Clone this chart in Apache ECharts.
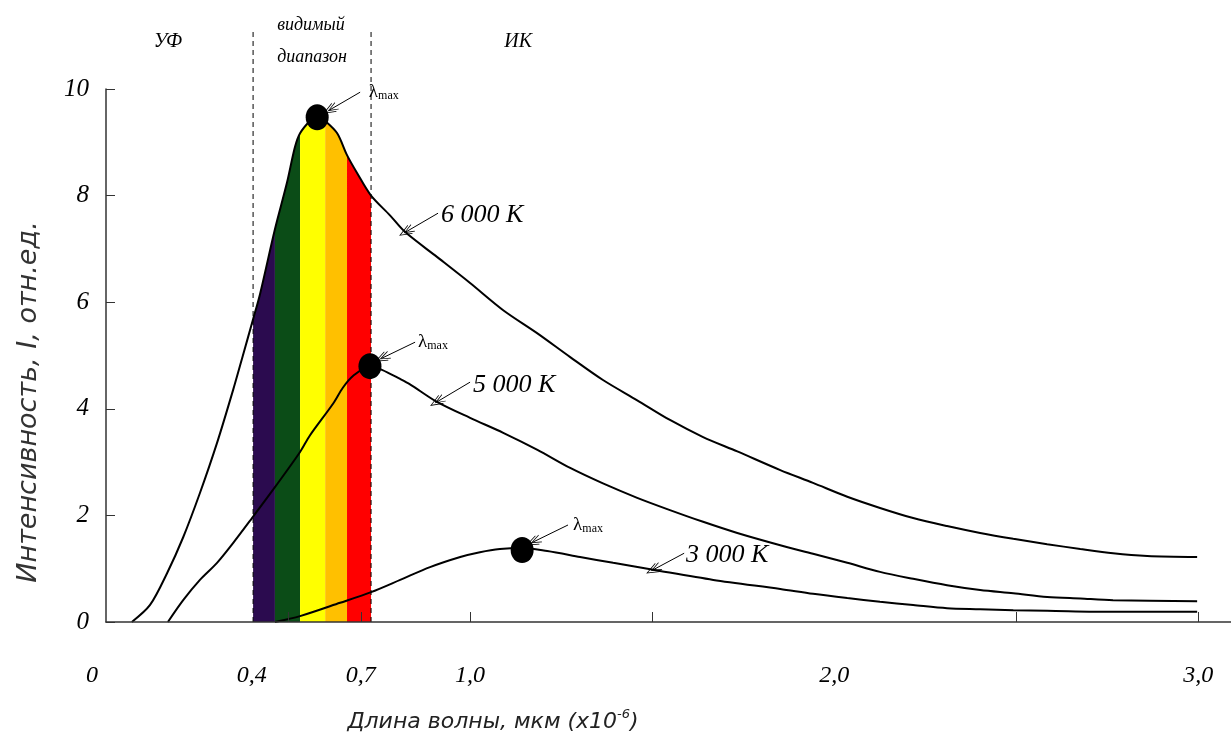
<!DOCTYPE html>
<html><head><meta charset="utf-8">
<script src="https://cdn.jsdelivr.net/npm/echarts@6/dist/echarts.min.js"></script>
<style>html,body{margin:0;padding:0;background:#fff}#c{width:1231px;height:740px}</style>
</head><body><div id="c"></div>
<script>
// ---- data ----
const curve6000 = [[0.071,0],[0.121,0.32],[0.168,0.92],[0.212,1.59],[0.258,2.42],[0.305,3.36],[0.349,4.35],[0.376,5.00],[0.404,5.68],[0.423,6.15],[0.464,7.37],[0.497,8.24],[0.519,8.91],[0.533,9.17],[0.560,9.40],[0.580,9.50],[0.602,9.40],[0.635,9.17],[0.662,8.76],[0.690,8.42],[0.728,8.00],[0.780,7.63],[0.821,7.32],[0.909,6.85],[1.0,6.36],[1.091,5.85],[1.184,5.42],[1.275,4.97],[1.365,4.54],[1.459,4.16],[1.549,3.79],[1.640,3.47],[1.734,3.20],[1.852,2.85],[1.942,2.61],[2.036,2.35],[2.126,2.14],[2.217,1.95],[2.310,1.80],[2.401,1.67],[2.492,1.56],[2.585,1.46],[2.676,1.37],[2.766,1.29],[2.860,1.24],[2.997,1.22]];
const curve5000 = [[0.170,0],[0.212,0.41],[0.258,0.79],[0.305,1.11],[0.349,1.48],[0.401,1.95],[0.464,2.53],[0.533,3.19],[0.560,3.50],[0.624,4.10],[0.651,4.40],[0.679,4.62],[0.725,4.80],[0.758,4.73],[0.808,4.56],[0.835,4.46],[0.909,4.13],[1.0,3.83],[1.091,3.55],[1.185,3.23],[1.275,2.89],[1.365,2.60],[1.459,2.33],[1.549,2.10],[1.640,1.88],[1.734,1.67],[1.852,1.44],[1.942,1.28],[2.036,1.11],[2.126,0.94],[2.217,0.81],[2.310,0.69],[2.401,0.60],[2.492,0.54],[2.585,0.47],[2.676,0.44],[2.766,0.41],[2.997,0.39]];
const curve3000 = [[0.464,0],[0.533,0.11],[0.643,0.36],[0.728,0.56],[0.808,0.79],[0.890,1.03],[0.973,1.22],[1.027,1.31],[1.082,1.37],[1.143,1.39],[1.212,1.33],[1.302,1.22],[1.393,1.11],[1.503,0.98],[1.668,0.79],[1.852,0.62],[1.942,0.53],[2.036,0.45],[2.126,0.38],[2.217,0.32],[2.310,0.26],[2.401,0.24],[2.492,0.22],[2.585,0.21],[2.766,0.19],[2.997,0.19]];
const peakPoints = [[0.580,9.47],[0.725,4.80],[1.143,1.35]];
const bandEdges = [0.404,0.464,0.533,0.602,0.662,0.728];
const bandColors = ['#2b0b4f','#0b4c17','#ffff00','#ffc000','#ff0000'];
const visibleLimits = [0.404,0.728];
const dashTop = 11.14;
const xTickValues = [0.5,0.7,1,1.5,2.5,3];
const xLabelValues = [0,0.4,0.7,1,2,3];
const regionLabels = [['УФ',0.170,10.88],['видимый',0.563,11.2],['диапазон',0.566,10.6],['ИК',1.132,10.88]];
const tempNames = ['6 000 К','5 000 К','3 000 К'];
const tempLabelPos = [[0.920,7.64],[1.008,4.45],[1.593,1.26]];
const tempArrows = [[[0.912,7.67],[0.824,7.32]],[[1.0,4.50],[0.909,4.13]],[[1.588,1.29],[1.503,0.98]]];
const lambdaLabelPos = [[0.722,9.94],[0.857,5.25],[1.283,1.82]];
const lambdaArrows = [[[0.698,9.94],[0.615,9.61]],[[0.849,5.25],[0.758,4.95]],[[1.269,1.82],[1.173,1.50]]];

// ---- chart ----
const SERIF = 'Liberation Serif';
const SMOOTH = 0.3;
const chart = echarts.init(document.getElementById('c'));
const inBand = (a,b) => curve6000.filter(p => p[0] >= a-1e-9 && p[0] <= b+1e-9);
const bandSeries = bandColors.map((c,i) => ({
  type:'line', data:inBand(bandEdges[i],bandEdges[i+1]), symbol:'none', silent:true, smooth:SMOOTH,
  lineStyle:{width:0}, areaStyle:{color:c, opacity:1}, z:1
}));
const dashSeries = visibleLimits.map(x => ({
  type:'line', data:[[x,0],[x,dashTop]], symbol:'none', silent:true, clip:false,
  lineStyle:{color:'#000', width:1, type:[5,4]}, z:3
}));
const curveSeries = [curve6000,curve5000,curve3000].map(d => ({
  type:'line', data:d, symbol:'none', silent:true, smooth:SMOOTH,
  lineStyle:{color:'#000', width:2}, z:4
}));
const arrowPath = 'path://M0,0 L6,12 L5,12 L0,2 L-5,12 L-6,12 Z M0,5 L5,15 L4,15 L0,7 L-4,15 L-5,15 Z';
const textItems = [];
regionLabels.forEach(r => textItems.push({value:[r[1],r[2]], label:{show:true, position:'inside', formatter:r[0],
  fontFamily:SERIF, fontStyle:'italic', fontSize: r[0].length > 2 ? 18 : 20, color:'#000'}}));
tempNames.forEach((n,i) => textItems.push({value:tempLabelPos[i], label:{show:true, position:'inside', align:'left', formatter:n,
  fontFamily:SERIF, fontStyle:'italic', fontSize:26, color:'#000'}}));
lambdaLabelPos.forEach(p => textItems.push({value:p, label:{show:true, position:'inside', align:'left', formatter:'{l|λ}{m|max}',
  rich:{l:{fontFamily:SERIF, fontSize:19, color:'#000'}, m:{fontFamily:SERIF, fontSize:12, color:'#000', padding:[8,0,0,0]}}}}));

const option = {
  animation:false,
  backgroundColor:'#fff',
  grid:{left:106, right:0, top:89, bottom:118, containLabel:false},
  xAxis:{type:'value', min:0, max:3.09, z:10,
    axisLine:{show:true, onZero:false, lineStyle:{color:'#333', width:1.5}},
    axisTick:{show:true, inside:true, length:10, customValues:xTickValues, lineStyle:{color:'#333', width:1}},
    axisLabel:{show:true, customValues:xLabelValues, margin:42, fontFamily:SERIF, fontStyle:'italic', fontSize:24, color:'#000',
      formatter: v => v === 0 ? '{z|0}' : v.toFixed(1).replace('.', ','),
      rich:{z:{fontFamily:SERIF, fontStyle:'italic', fontSize:24, color:'#000', padding:[0,28,0,0]}}},
    splitLine:{show:false}},
  yAxis:{type:'value', min:0, max:10, interval:2, z:10,
    axisLine:{show:true, lineStyle:{color:'#333', width:1.5}},
    axisTick:{show:true, inside:true, length:9, lineStyle:{color:'#333', width:1}},
    axisLabel:{margin:17, fontFamily:SERIF, fontStyle:'italic', fontSize:25, color:'#000'},
    splitLine:{show:false}},
  graphic:[
    {type:'text', x:29, y:402, rotation:Math.PI/2, style:{text:'Интенсивность, I, отн.ед.', fill:'#333',
      font:'italic 27px "DejaVu Sans"', textAlign:'center', textVerticalAlign:'middle'}},
    {type:'text', x:493, y:722, style:{text:'{a|Длина волны, мкм (x10}{s|-6}{a|)}', fill:'#222',
      font:'italic 22px "DejaVu Sans"', textAlign:'center', textVerticalAlign:'middle',
      rich:{a:{font:'italic 22px "DejaVu Sans"', fill:'#222'}, s:{font:'italic 13px "DejaVu Sans"', fill:'#222', padding:[0,0,14,0]}}}}
  ],
  series:[
    ...bandSeries,
    ...dashSeries,
    ...curveSeries,
    {type:'scatter', data:peakPoints, symbolSize:[23,26], itemStyle:{color:'#000', opacity:1}, silent:true, z:5,
      markLine:{silent:true, symbol:['none',arrowPath], symbolSize:[10,16], label:{show:false},
        lineStyle:{color:'#000', width:1, type:'solid', opacity:1},
        data:[...tempArrows, ...lambdaArrows].map(a => [{coord:a[0]},{coord:a[1]}])}},
    {type:'scatter', data:textItems, symbolSize:0, clip:false, silent:true, z:6, itemStyle:{opacity:1}}
  ]
};
chart.setOption(option);
</script></body></html>
